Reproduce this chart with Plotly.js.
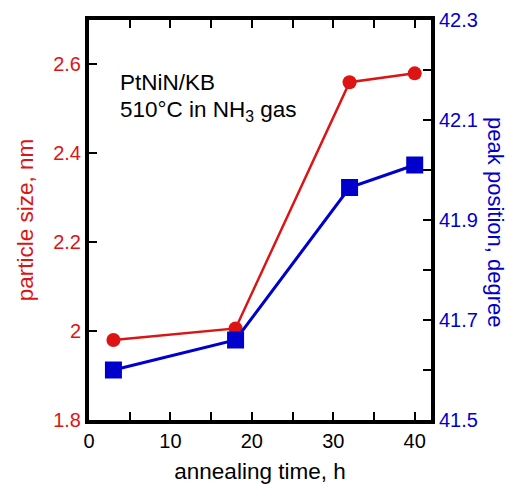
<!DOCTYPE html>
<html>
<head>
<meta charset="utf-8">
<script src="https://cdn.plot.ly/plotly-3.0.1.min.js"></script>
<style>html,body{margin:0;padding:0;background:#fff;}#chart{width:507px;height:484px;}</style>
</head>
<body>
<div id="chart"></div>
<script>
// Data
const annealingTime = [3, 18, 32, 40];
const particleSize = [1.98, 2.006, 2.56, 2.58];
const peakPosition = [41.60, 41.66, 41.965, 42.01];

// Tick definitions
const xTickVals = [0, 5, 10, 15, 20, 25, 30, 35, 40];
const xTickText = ['0', '', '10', '', '20', '', '30', '', '40'];
const yTickVals = [1.8, 2.0, 2.2, 2.4, 2.6];
const yTickText = ['1.8', '2', '2.2', '2.4', '2.6'];
const y2TickVals = [41.5, 41.6, 41.7, 41.8, 41.9, 42.0, 42.1, 42.2, 42.3];
const y2TickText = ['41.5', '', '41.7', '', '41.9', '', '42.1', '', '42.3'];

const RED = 'rgb(220,20,20)';
const BLUE = 'rgb(0,0,205)';
const FONT = 'Liberation Sans, Arial, sans-serif';

const traces = [
  {
    x: annealingTime, y: particleSize, type: 'scatter', mode: 'lines+markers',
    line: {color: RED, width: 2.5},
    marker: {color: RED, size: 14, symbol: 'circle'},
    yaxis: 'y', cliponaxis: false
  },
  {
    x: annealingTime, y: peakPosition, type: 'scatter', mode: 'lines+markers',
    line: {color: BLUE, width: 3},
    marker: {color: BLUE, size: 17, symbol: 'square'},
    yaxis: 'y2', cliponaxis: false
  }
];

const layout = {
  width: 507, height: 484,
  margin: {l: 89, r: 76, t: 20, b: 64},
  paper_bgcolor: '#fff', plot_bgcolor: '#fff',
  showlegend: false,
  font: {family: FONT, size: 20, color: '#000'},
  xaxis: {
    range: [0, 42], tickmode: 'array', tickvals: xTickVals, ticktext: xTickText,
    ticks: 'inside', ticklen: 8, tickwidth: 2, tickcolor: '#000',
    showline: true, linewidth: 4, linecolor: '#000', mirror: 'ticks',
    showgrid: false, zeroline: false,
    tickfont: {family: FONT, size: 20, color: '#000'},
    title: {text: 'annealing time, h', font: {family: FONT, size: 22.5, color: '#000'}, standoff: 13}
  },
  yaxis: {
    range: [1.8, 2.7], tickmode: 'array', tickvals: yTickVals, ticktext: yTickText,
    ticks: 'inside', ticklen: 8, tickwidth: 2, tickcolor: '#000',
    showline: true, linewidth: 4, linecolor: '#000',
    showgrid: false, zeroline: false,
    tickfont: {family: FONT, size: 20, color: RED},
    title: {text: 'particle size, nm', font: {family: FONT, size: 22.5, color: RED}, standoff: 14}
  },
  yaxis2: {
    range: [41.5, 42.3], overlaying: 'y', side: 'right',
    tickmode: 'array', tickvals: y2TickVals, ticktext: y2TickText,
    ticks: 'inside', ticklen: 8, tickwidth: 2, tickcolor: '#000',
    showline: true, linewidth: 4, linecolor: '#000',
    showgrid: false, zeroline: false,
    tickfont: {family: FONT, size: 20, color: BLUE}
  },
  annotations: [
    {
      xref: 'paper', yref: 'paper', x: 0.086, y: 0.845, xanchor: 'left', yanchor: 'middle',
      align: 'left', showarrow: false,
      text: 'PtNiN/KB',
      font: {family: FONT, size: 22.5, color: '#000'}
    },
    {
      xref: 'paper', yref: 'paper', x: 0.086, y: 0.772, xanchor: 'left', yanchor: 'middle',
      align: 'left', showarrow: false,
      text: '510°C in NH<sub>3</sub> gas',
      font: {family: FONT, size: 22.5, color: '#000'}
    },
    {
      xref: 'paper', yref: 'paper', x: 1.188, y: 0.494, xanchor: 'center', yanchor: 'middle',
      textangle: 90, showarrow: false,
      text: 'peak position, degree',
      font: {family: FONT, size: 22, color: BLUE}
    }
  ]
};

Plotly.newPlot('chart', traces, layout, {displayModeBar: false, staticPlot: true});
</script>
</body>
</html>
